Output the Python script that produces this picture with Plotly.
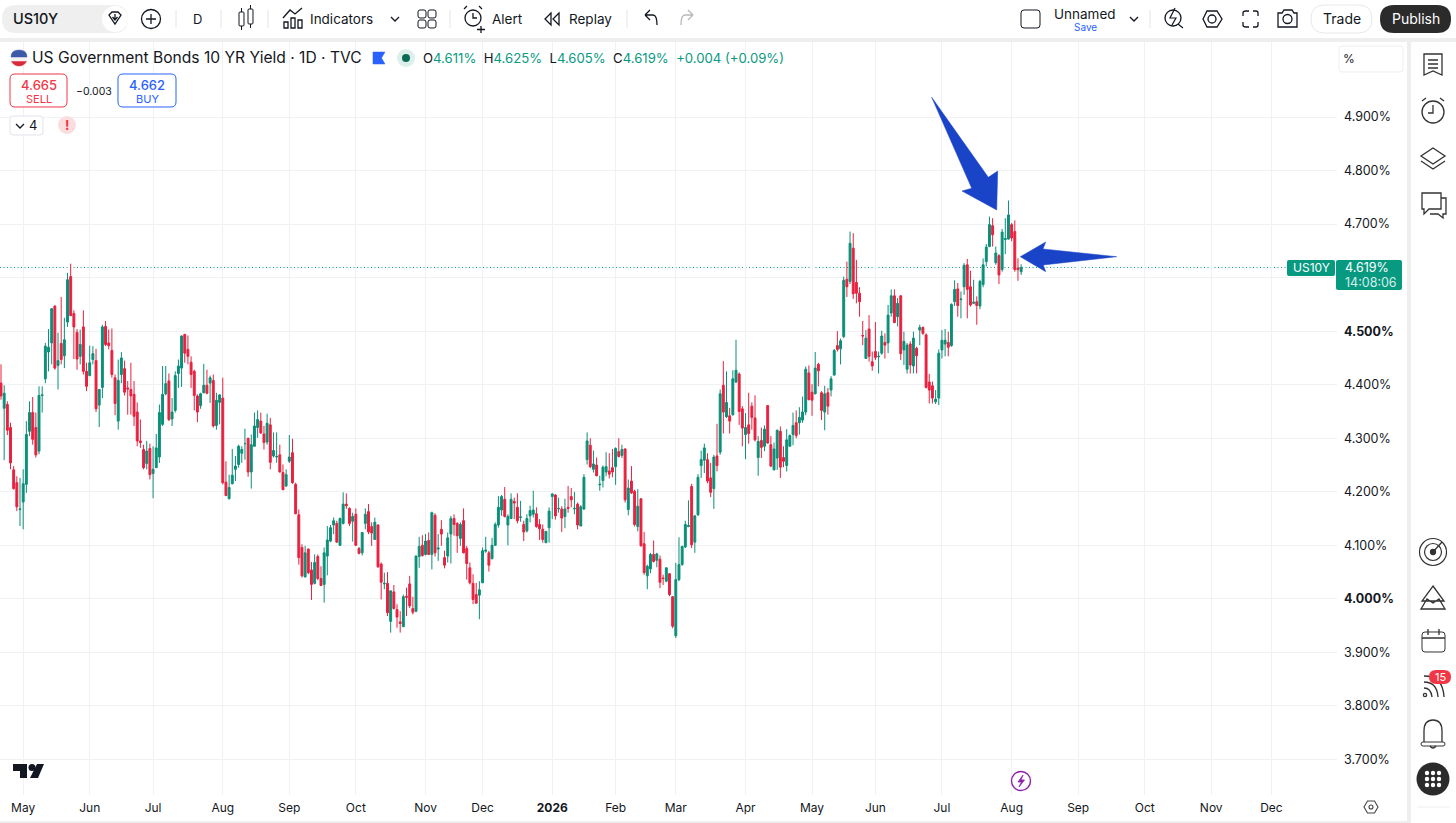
import re

import plotly.graph_objects as go

opens = [
    4.403, 4.356, 4.363, 4.320, 4.241, 4.217, 4.167, 4.181, 4.214, 4.313,
    4.348, 4.320, 4.276, 4.380, 4.411, 4.461, 4.478, 4.547, 4.436, 4.477,
    4.454, 4.517, 4.602, 4.533, 4.498, 4.453, 4.508, 4.425, 4.417, 4.447,
    4.445, 4.362, 4.395, 4.509, 4.478, 4.464, 4.413, 4.332, 4.419, 4.430,
    4.394, 4.391, 4.382, 4.349, 4.295, 4.279, 4.253, 4.281, 4.234, 4.245,
    4.265, 4.326, 4.383, 4.407, 4.336, 4.352, 4.421, 4.431, 4.494, 4.466,
    4.442, 4.425, 4.379, 4.361, 4.385, 4.399, 4.403, 4.408, 4.324, 4.367,
    4.375, 4.218, 4.187, 4.215, 4.242, 4.251, 4.272, 4.290, 4.300, 4.237,
    4.285, 4.320, 4.332, 4.308, 4.293, 4.325, 4.267, 4.265, 4.269, 4.236,
    4.211, 4.257, 4.273, 4.214, 4.157, 4.096, 4.041, 4.093, 4.054, 4.029,
    4.079, 4.038, 4.027, 4.080, 4.108, 4.138, 4.141, 4.100, 4.141, 4.177,
    4.169, 4.145, 4.158, 4.094, 4.086, 4.141, 4.163, 4.135, 4.111, 4.138,
    4.065, 4.028, 4.029, 3.958, 4.013, 3.980, 3.957, 3.948, 4.005, 4.028,
    3.982, 3.977, 4.079, 4.100, 4.083, 4.109, 4.083, 4.156, 4.093, 4.130,
    4.077, 4.080, 4.121, 4.150, 4.141, 4.113, 4.146, 4.094, 4.058, 4.029,
    4.008, 4.007, 4.030, 4.089, 4.086, 4.075, 4.100, 4.138, 4.166, 4.186,
    4.138, 4.150, 4.182, 4.171, 4.152, 4.139, 4.127, 4.155, 4.158, 4.159,
    4.139, 4.130, 4.105, 4.133, 4.191, 4.194, 4.168, 4.168, 4.154, 4.171,
    4.191, 4.168, 4.177, 4.136, 4.168, 4.260, 4.287, 4.242, 4.250, 4.213,
    4.221, 4.237, 4.239, 4.245, 4.247, 4.275, 4.268, 4.280, 4.167, 4.220,
    4.201, 4.135, 4.187, 4.103, 4.043, 4.056, 4.083, 4.072, 4.074, 4.039,
    4.033, 4.047, 4.004, 3.931, 4.036, 4.064, 4.097, 4.135, 4.210, 4.106,
    4.157, 4.249, 4.259, 4.260, 4.226, 4.206, 4.267, 4.274, 4.399, 4.340,
    4.342, 4.344, 4.405, 4.420, 4.355, 4.307, 4.325, 4.360, 4.338, 4.264,
    4.296, 4.285, 4.361, 4.288, 4.241, 4.263, 4.313, 4.264, 4.249, 4.285,
    4.307, 4.329, 4.329, 4.334, 4.349, 4.422, 4.386, 4.383, 4.438, 4.385,
    4.349, 4.385, 4.390, 4.418, 4.473, 4.467, 4.490, 4.597, 4.593, 4.655,
    4.591, 4.571, 4.492, 4.449, 4.504, 4.443, 4.462, 4.452, 4.459, 4.479,
    4.478, 4.534, 4.566, 4.527, 4.566, 4.465, 4.429, 4.476, 4.435, 4.468,
    4.502, 4.507, 4.493, 4.405, 4.398, 4.368, 4.375, 4.465, 4.476, 4.479,
    4.473, 4.555, 4.579, 4.559, 4.583, 4.624, 4.583, 4.552, 4.555, 4.547,
    4.587, 4.630, 4.658, 4.697, 4.628, 4.641, 4.615, 4.671, 4.672, 4.699,
    4.686, 4.618, 4.611,
]
highs = [
    4.438, 4.399, 4.369, 4.329, 4.248, 4.229, 4.226, 4.242, 4.332, 4.369,
    4.377, 4.348, 4.397, 4.397, 4.478, 4.504, 4.543, 4.548, 4.497, 4.564,
    4.525, 4.609, 4.626, 4.539, 4.504, 4.503, 4.539, 4.441, 4.473, 4.472,
    4.467, 4.391, 4.512, 4.519, 4.503, 4.505, 4.419, 4.447, 4.461, 4.445,
    4.407, 4.441, 4.407, 4.367, 4.335, 4.288, 4.295, 4.290, 4.285, 4.308,
    4.363, 4.435, 4.435, 4.421, 4.375, 4.425, 4.447, 4.492, 4.495, 4.492,
    4.453, 4.428, 4.382, 4.385, 4.439, 4.428, 4.417, 4.419, 4.385, 4.382,
    4.413, 4.257, 4.232, 4.280, 4.267, 4.288, 4.285, 4.318, 4.301, 4.307,
    4.348, 4.352, 4.348, 4.323, 4.346, 4.338, 4.311, 4.311, 4.288, 4.251,
    4.242, 4.306, 4.299, 4.217, 4.167, 4.102, 4.099, 4.094, 4.069, 4.083,
    4.083, 4.061, 4.096, 4.136, 4.138, 4.152, 4.146, 4.152, 4.199, 4.197,
    4.171, 4.161, 4.169, 4.097, 4.125, 4.169, 4.177, 4.143, 4.152, 4.139,
    4.068, 4.049, 4.050, 4.015, 4.026, 3.990, 3.977, 4.008, 4.021, 4.043,
    4.004, 4.081, 4.116, 4.119, 4.121, 4.124, 4.163, 4.160, 4.121, 4.147,
    4.090, 4.124, 4.155, 4.158, 4.143, 4.143, 4.169, 4.099, 4.068, 4.046,
    4.030, 4.033, 4.096, 4.116, 4.090, 4.114, 4.143, 4.192, 4.194, 4.209,
    4.158, 4.197, 4.189, 4.197, 4.183, 4.146, 4.158, 4.174, 4.202, 4.171,
    4.149, 4.139, 4.127, 4.171, 4.197, 4.196, 4.189, 4.173, 4.187, 4.211,
    4.207, 4.200, 4.180, 4.175, 4.233, 4.311, 4.300, 4.277, 4.264, 4.230,
    4.249, 4.274, 4.272, 4.280, 4.283, 4.300, 4.288, 4.281, 4.223, 4.248,
    4.204, 4.205, 4.188, 4.125, 4.064, 4.086, 4.109, 4.086, 4.081, 4.045,
    4.059, 4.048, 4.005, 4.067, 4.115, 4.099, 4.146, 4.184, 4.215, 4.157,
    4.233, 4.277, 4.290, 4.272, 4.254, 4.269, 4.327, 4.391, 4.444, 4.425,
    4.357, 4.427, 4.484, 4.423, 4.360, 4.347, 4.385, 4.367, 4.380, 4.304,
    4.320, 4.324, 4.362, 4.304, 4.292, 4.316, 4.322, 4.285, 4.317, 4.307,
    4.348, 4.352, 4.358, 4.378, 4.434, 4.436, 4.401, 4.461, 4.441, 4.388,
    4.398, 4.394, 4.416, 4.467, 4.500, 4.486, 4.602, 4.630, 4.686, 4.683,
    4.633, 4.582, 4.519, 4.502, 4.530, 4.462, 4.517, 4.462, 4.501, 4.496,
    4.549, 4.578, 4.578, 4.562, 4.567, 4.499, 4.478, 4.481, 4.499, 4.471,
    4.512, 4.509, 4.496, 4.420, 4.406, 4.390, 4.466, 4.502, 4.504, 4.499,
    4.552, 4.595, 4.590, 4.574, 4.627, 4.635, 4.613, 4.596, 4.565, 4.596,
    4.636, 4.663, 4.714, 4.711, 4.658, 4.644, 4.691, 4.711, 4.744, 4.702,
    4.707, 4.636, 4.625,
]
lows = [
    4.372, 4.259, 4.306, 4.242, 4.204, 4.164, 4.136, 4.130, 4.198, 4.304,
    4.288, 4.264, 4.270, 4.348, 4.403, 4.425, 4.438, 4.428, 4.391, 4.438,
    4.431, 4.508, 4.528, 4.448, 4.428, 4.438, 4.419, 4.388, 4.416, 4.438,
    4.349, 4.321, 4.375, 4.472, 4.466, 4.413, 4.343, 4.316, 4.403, 4.380,
    4.344, 4.344, 4.323, 4.285, 4.282, 4.242, 4.242, 4.223, 4.188, 4.245,
    4.254, 4.323, 4.380, 4.332, 4.323, 4.348, 4.394, 4.396, 4.441, 4.438,
    4.394, 4.352, 4.330, 4.355, 4.384, 4.382, 4.366, 4.320, 4.316, 4.326,
    4.214, 4.192, 4.186, 4.214, 4.220, 4.245, 4.254, 4.260, 4.228, 4.206,
    4.285, 4.301, 4.308, 4.279, 4.288, 4.242, 4.264, 4.254, 4.236, 4.203,
    4.209, 4.254, 4.215, 4.158, 4.064, 4.040, 4.040, 4.046, 3.998, 4.027,
    4.035, 4.024, 3.993, 4.044, 4.106, 4.121, 4.105, 4.099, 4.139, 4.168,
    4.136, 4.107, 4.099, 4.083, 4.081, 4.130, 4.121, 4.099, 4.110, 4.058,
    3.999, 4.018, 3.968, 3.937, 3.980, 3.946, 3.937, 3.948, 3.968, 3.983,
    3.971, 3.975, 4.058, 4.079, 4.081, 4.082, 4.055, 4.079, 4.071, 4.099,
    4.057, 4.068, 4.066, 4.118, 4.086, 4.099, 4.085, 4.036, 4.027, 3.990,
    3.991, 3.962, 4.030, 4.086, 4.051, 4.074, 4.099, 4.133, 4.155, 4.152,
    4.100, 4.149, 4.149, 4.141, 4.144, 4.108, 4.124, 4.143, 4.152, 4.133,
    4.110, 4.105, 4.104, 4.105, 4.149, 4.148, 4.161, 4.125, 4.132, 4.161,
    4.171, 4.158, 4.130, 4.136, 4.166, 4.251, 4.244, 4.236, 4.229, 4.202,
    4.208, 4.229, 4.225, 4.227, 4.213, 4.264, 4.263, 4.180, 4.156, 4.196,
    4.135, 4.126, 4.098, 4.045, 4.018, 4.048, 4.068, 4.059, 4.020, 4.026,
    4.031, 4.005, 3.945, 3.927, 4.033, 4.062, 4.095, 4.134, 4.095, 4.086,
    4.155, 4.226, 4.235, 4.216, 4.190, 4.168, 4.238, 4.269, 4.309, 4.338,
    4.309, 4.342, 4.403, 4.325, 4.285, 4.261, 4.290, 4.316, 4.294, 4.230,
    4.263, 4.276, 4.290, 4.246, 4.240, 4.241, 4.226, 4.246, 4.238, 4.285,
    4.287, 4.300, 4.307, 4.329, 4.343, 4.371, 4.342, 4.382, 4.397, 4.334,
    4.315, 4.344, 4.378, 4.417, 4.462, 4.438, 4.487, 4.564, 4.588, 4.560,
    4.552, 4.527, 4.474, 4.448, 4.443, 4.426, 4.446, 4.421, 4.456, 4.449,
    4.459, 4.527, 4.515, 4.509, 4.446, 4.437, 4.421, 4.421, 4.421, 4.421,
    4.474, 4.493, 4.393, 4.365, 4.365, 4.364, 4.362, 4.449, 4.453, 4.453,
    4.471, 4.547, 4.527, 4.524, 4.568, 4.524, 4.546, 4.551, 4.512, 4.541,
    4.582, 4.621, 4.657, 4.658, 4.624, 4.588, 4.611, 4.644, 4.671, 4.668,
    4.611, 4.594, 4.605,
]
closes = [
    4.379, 4.384, 4.315, 4.254, 4.206, 4.172, 4.168, 4.215, 4.307, 4.348,
    4.298, 4.269, 4.380, 4.381, 4.472, 4.470, 4.542, 4.431, 4.445, 4.447,
    4.484, 4.596, 4.529, 4.508, 4.448, 4.475, 4.425, 4.397, 4.441, 4.458,
    4.355, 4.391, 4.508, 4.475, 4.473, 4.419, 4.365, 4.408, 4.450, 4.386,
    4.392, 4.379, 4.341, 4.295, 4.292, 4.245, 4.276, 4.232, 4.242, 4.282,
    4.348, 4.382, 4.402, 4.335, 4.349, 4.417, 4.435, 4.491, 4.459, 4.453,
    4.419, 4.380, 4.349, 4.383, 4.399, 4.384, 4.413, 4.323, 4.371, 4.381,
    4.217, 4.193, 4.208, 4.231, 4.248, 4.285, 4.279, 4.290, 4.237, 4.288,
    4.323, 4.335, 4.310, 4.292, 4.328, 4.255, 4.277, 4.266, 4.237, 4.204,
    4.232, 4.265, 4.217, 4.159, 4.077, 4.043, 4.086, 4.049, 4.027, 4.068,
    4.038, 4.025, 4.086, 4.110, 4.133, 4.146, 4.106, 4.150, 4.177, 4.174,
    4.141, 4.154, 4.100, 4.085, 4.124, 4.158, 4.125, 4.123, 4.143, 4.060,
    4.031, 4.029, 3.974, 4.015, 3.982, 3.966, 3.954, 4.004, 4.003, 3.987,
    3.975, 4.080, 4.098, 4.081, 4.108, 4.083, 4.161, 4.086, 4.095, 4.121,
    4.063, 4.114, 4.150, 4.139, 4.118, 4.139, 4.086, 4.066, 4.030, 3.999,
    3.992, 4.017, 4.090, 4.091, 4.063, 4.100, 4.139, 4.171, 4.191, 4.154,
    4.154, 4.186, 4.179, 4.146, 4.153, 4.125, 4.150, 4.165, 4.166, 4.135,
    4.131, 4.111, 4.126, 4.164, 4.196, 4.155, 4.169, 4.151, 4.168, 4.169,
    4.185, 4.169, 4.138, 4.172, 4.227, 4.295, 4.247, 4.252, 4.230, 4.214,
    4.246, 4.247, 4.233, 4.237, 4.281, 4.266, 4.279, 4.185, 4.207, 4.198,
    4.139, 4.173, 4.099, 4.049, 4.061, 4.083, 4.070, 4.084, 4.031, 4.038,
    4.058, 4.008, 3.949, 4.036, 4.064, 4.098, 4.139, 4.137, 4.101, 4.155,
    4.227, 4.260, 4.282, 4.220, 4.199, 4.265, 4.249, 4.383, 4.349, 4.367,
    4.332, 4.411, 4.427, 4.350, 4.319, 4.320, 4.309, 4.339, 4.297, 4.294,
    4.283, 4.317, 4.291, 4.248, 4.280, 4.315, 4.246, 4.257, 4.297, 4.305,
    4.324, 4.305, 4.339, 4.349, 4.429, 4.372, 4.371, 4.431, 4.426, 4.352,
    4.383, 4.360, 4.411, 4.464, 4.466, 4.482, 4.595, 4.583, 4.664, 4.570,
    4.571, 4.555, 4.491, 4.487, 4.453, 4.435, 4.451, 4.453, 4.491, 4.474,
    4.530, 4.566, 4.516, 4.552, 4.458, 4.481, 4.474, 4.437, 4.487, 4.454,
    4.507, 4.496, 4.395, 4.390, 4.375, 4.373, 4.459, 4.483, 4.483, 4.470,
    4.550, 4.578, 4.548, 4.560, 4.623, 4.578, 4.549, 4.554, 4.548, 4.593,
    4.624, 4.657, 4.699, 4.680, 4.646, 4.605, 4.685, 4.673, 4.717, 4.674,
    4.615, 4.615, 4.619,
]

# bar number where each month starts
month_bars = [7, 28, 48, 70, 91, 112, 134, 152, 174, 194, 213, 235, 256, 276, 297, 319, 340, 361, 382, 401]
month_labels = ["May", "Jun", "Jul", "Aug", "Sep", "Oct", "Nov", "Dec", "<b>2026</b>", "Feb", "Mar", "Apr",
                "May", "Jun", "Jul", "Aug", "Sep", "Oct", "Nov", "Dec"]
price_ticks = [3.7, 3.8, 3.9, 4.0, 4.1, 4.2, 4.3, 4.4, 4.5, 4.6, 4.7, 4.8, 4.9]
price_labels = ["3.700%", "3.800%", "3.900%", "<b>4.000%</b>", "4.100%", "4.200%", "4.300%", "4.400%",
                "<b>4.500%</b>", "", "4.700%", "4.800%", "4.900%"]

ANCHO = 1456
ALTO = 823
VERDE = "#089981"
ROJO = "#F23645"
VELA_VERDE = "#0A8F78"
VELA_ROJA = "#E8203F"
AZUL = "#2962FF"
NEGRO = "#131722"
GRIS = "#EEEEEE"
FUENTE = "Inter"

formas = []
textos = []


def svg(d):
    # d esta en pixeles de la pagina, se pasa a coordenadas paper
    salida = []
    es_x = True
    for token in re.findall(r"[MLQCZ]|-?[\d.]+", d):
        if token in "MLQCZ":
            salida.append(token)
            es_x = True
        elif es_x:
            salida.append(str(round(float(token) / ANCHO, 5)))
            es_x = False
        else:
            salida.append(str(round(1 - float(token) / ALTO, 5)))
            es_x = True
    return " ".join(salida)


def trazo(d, color=NEGRO, ancho=1.3, relleno=None):
    formas.append(dict(
        type="path", xref="paper", yref="paper", path=svg(d),
        line=dict(color=color, width=ancho), fillcolor=relleno
    ))


def caja(x0, y0, x1, y1, r=0, color=None, relleno=None, ancho=1):
    d = (
        f"M{x0 + r} {y0} L{x1 - r} {y0} Q{x1} {y0} {x1} {y0 + r} L{x1} {y1 - r} Q{x1} {y1} {x1 - r} {y1} "
        f"L{x0 + r} {y1} Q{x0} {y1} {x0} {y1 - r} L{x0} {y0 + r} Q{x0} {y0} {x0 + r} {y0} Z"
    )
    trazo(d, color or "rgba(0,0,0,0)", ancho if color else 0, relleno)


def circulo(cx, cy, r, color=None, relleno=None, ancho=1.3):
    formas.append(dict(
        type="circle", xref="paper", yref="paper",
        x0=(cx - r) / ANCHO, x1=(cx + r) / ANCHO, y0=1 - (cy - r) / ALTO, y1=1 - (cy + r) / ALTO,
        line=dict(color=color or "rgba(0,0,0,0)", width=ancho if color else 0), fillcolor=relleno
    ))


def texto(x, y, t, size=14, color=NEGRO, lado="left", peso=400):
    if lado == "left":
        x = x - 1
    textos.append(dict(
        x=x / ANCHO, y=1 - y / ALTO, xref="paper", yref="paper", text=t, showarrow=False,
        xanchor=lado, yanchor="middle", borderpad=0,
        font=dict(family=FUENTE, size=size, color=color, weight=peso)
    ))


# bandas grises y barra superior
caja(0, 38, ANCHO, 42, relleno=GRIS)
caja(1407, 42, 1411, 823, relleno=GRIS)
caja(0, 821, 1407, 823, relleno=GRIS)

caja(2, 5, 128, 33, 14, relleno="#EFEFEF")
circulo(115, 19, 13, relleno="#FFFFFF")
trazo("M109 15 L112 12 L118 12 L121 15 L115 24 Z M115 14 L115 19 M112.5 17 L115 20 L117.5 17")
texto(13, 19, "US10Y", 14.5, NEGRO, peso=500)
circulo(151, 19, 9.5, NEGRO)
trazo("M146 19 L156 19 M151 14 L151 24")
for x in [176, 221, 268, 450, 627, 1150]:
    trazo(f"M{x} 10 L{x} 28", "#E4E4E4", 1)
texto(198, 19, "D", 13, NEGRO, "center")
caja(239, 12, 244, 26, 1, NEGRO)
caja(248, 9, 253, 24, 1, NEGRO)
trazo("M241.5 8 L241.5 12 M241.5 26 L241.5 30 M250.5 5 L250.5 9 M250.5 24 L250.5 28", ancho=1)
trazo("M284 28 L284 22 L288 22 L288 28 Z M291 28 L291 18 L295 18 L295 28 Z M298 28 L298 20 L302 20 L302 28 Z")
trazo("M283 18 L290 10 L295 14 L302 8")
texto(310, 19, "Indicators", 13.5)
trazo("M391 17 L395 21 L399 17")
for cx, cy in [(422, 14), (432, 14), (422, 24), (432, 24)]:
    caja(cx - 4, cy - 4, cx + 4, cy + 4, 2, NEGRO)
circulo(473, 18, 8, NEGRO)
trazo("M473 13 L473 18 L477 18 M464 9 L467 6 M482 9 L479 6 M481 26 L481 33 M477 29.5 L485 29.5")
texto(492, 19, "Alert", 13.5)
trazo("M551 13 L545 19 L551 25 Z M559 13 L553 19 L559 25 Z")
texto(569, 19, "Replay", 13.5)
trazo("M645 15 L650 10 M645 15 L650 20 M645 15 L653 15 Q657 15 657 25")
trazo("M693 15 L688 10 M693 15 L688 20 M693 15 L685 15 Q681 15 681 25", "#B8B8B8")

caja(1021, 10, 1040, 28, 3, NEGRO)
texto(1085, 14, "Unnamed", 13.5, NEGRO, "center")
texto(1085, 27, "Save", 10, AZUL, "center")
trazo("M1130 17 L1134 21 L1138 17")
circulo(1173, 18, 8, NEGRO)
trazo("M1178 24 L1183 28 M1175 8 L1170 18 L1176 18 L1172 25", ancho=1.2)
trazo("M1203 19 L1207 11 L1217 11 L1222 19 L1217 27 L1207 27 Z")
circulo(1212, 19, 4, NEGRO)
trazo("M1243 16 L1243 13 Q1243 11 1246 11 L1249 11 M1253 11 L1256 11 Q1258 11 1258 13 L1258 16 "
      "M1258 22 L1258 25 Q1258 27 1256 27 L1253 27 M1249 27 L1246 27 Q1243 27 1243 25 L1243 22")
trazo("M1278 13 L1282 13 L1284 10 L1292 10 L1294 13 L1297 13 L1297 27 L1278 27 Z")
circulo(1287.5, 19, 4.5, NEGRO)
caja(1311, 5, 1372, 33, 14, "#E8E8E8", "#FFFFFF")
texto(1341.5, 19, "Trade", 14, NEGRO, "center")
caja(1380, 5, 1451, 33, 14, relleno="#2B2B2B")
texto(1415.5, 19, "Publish", 14, "#FFFFFF", "center")

# cabecera del grafico
circulo(19, 58, 8, relleno="#F2F2F2")
trazo("M11 57 Q11 50 19 50 Q27 50 27 57 Z", "#3C5AA8", 0.5, "#3C5AA8")
trazo("M11.5 61.5 L26.5 61.5 Q24 66 19 66 Q14 66 11.5 61.5 Z", "#D9283A", 0.5, "#D9283A")
texto(32, 58, "US Government Bonds 10 YR Yield · 1D · TVC", 15.6, NEGRO)
trazo("M373 52 L385 52 L381.5 58 L385 64 L373 64 Z", AZUL, 0.5, AZUL)
circulo(406, 58, 9, relleno="#DDEFEA")
circulo(406, 58, 4, relleno="#0B6B58")


def ohlc(letra, valor):
    return f"{letra}<span style='color:{VERDE}'>{valor}</span>"


texto(423, 58, "  ".join([
    ohlc("O", f"{opens[-1]:.3f}%"), ohlc("H", f"{highs[-1]:.3f}%"),
    ohlc("L", f"{lows[-1]:.3f}%"), ohlc("C", f"{closes[-1]:.3f}%"),
]) + f"  <span style='color:{VERDE}'>+0.004 (+0.09%)</span>", 13.15)

caja(10, 74, 67, 107, 5, ROJO, "#FFFFFF")
texto(38.5, 85, "4.665", 13, ROJO, "center", 500)
texto(38.5, 99, "SELL", 11, ROJO, "center")
texto(94, 91, "−0.003", 10.5, NEGRO, "center")
caja(118, 74, 176, 107, 5, AZUL, "#FFFFFF")
texto(147, 85, "4.662", 13, AZUL, "center", 500)
texto(147, 99, "BUY", 11, AZUL, "center")

caja(10, 116, 43, 135, 3, "#E0E3EB", "#FFFFFF")
trazo("M16 124 L20 128 L24 124")
texto(29, 125.5, "4", 13)
circulo(67, 125, 9, relleno="#FBDDE0")
texto(67, 125, "!", 13, ROJO, "center", 700)

caja(1339, 46, 1403, 72, 3, "#EEEEEE", "#FFFFFF")
texto(1343, 59, "%", 12)

# etiquetas del ultimo precio
caja(1287, 260, 1335, 276, 2, relleno=VERDE)
texto(1311, 268, "US10Y", 12, "#FFFFFF", "center")
caja(1336, 260, 1402, 290, 2, relleno=VERDE)
texto(1345, 268, f"{closes[-1]:.3f}%", 12.5, "#FFFFFF")
texto(1345, 282, "14:08:06", 12.5, "#D5EFEA")

# logo y botones de abajo
trazo("M13 764 L27 764 L27 778 L20 778 L20 771 L13 771 Z", NEGRO, 0, NEGRO)
circulo(32, 767.5, 3.5, relleno=NEGRO)
trazo("M37 764 L44 764 L38 778 L30 778 Z", NEGRO, 0, NEGRO)
circulo(1021, 781, 9.5, "#8E24AA", "#FFFFFF", 1.4)
trazo("M1023 775 L1018 782 L1021.5 782 L1019 787 L1024.5 780 L1021 780 Z", "#8E24AA", 0.8, "#8E24AA")
trazo("M1364 807 L1367.5 801 L1374.5 801 L1378 807 L1374.5 813 L1367.5 813 Z", "#444444", 1.1)
circulo(1371, 807, 2, "#444444", None, 1.1)

# barra lateral
trazo("M1424 54 L1442 54 L1442 75 L1433 71 L1424 75 Z M1428 60 L1438 60 M1428 64 L1438 64 M1428 68 L1438 68", "#333333")
circulo(1433, 112, 11, "#333333")
trazo("M1433 105 L1433 113 L1428 113 M1422 101 L1426 98 M1444 101 L1440 98", "#333333")
trazo("M1433 148 L1445 156 L1433 164 L1421 156 Z M1421 161 L1433 169 L1445 161", "#333333")
trazo("M1422 193 L1441 193 L1441 209 L1429 209 L1424 214 L1424 209 L1422 209 Z", "#333333")
trazo("M1441 198 L1446 198 L1446 214 L1443 214 L1443 218 L1438 214 L1430 214", "#333333")
circulo(1433, 552, 13.5, "#333333", None, 1.2)
circulo(1433, 552, 8.5, "#333333", None, 1.2)
circulo(1433, 552, 2.5, "#333333", "#333333")
trazo("M1433 552 L1442 542", "#333333")
trazo("M1433 586 L1444 601 L1422 601 Z M1421 609 L1445 609 L1439 599 L1433 603 L1427 599 Z", "#333333")
caja(1422, 632, 1445, 652, 3, "#333333")
trazo("M1422 638 L1445 638 M1428 629 L1428 635 M1439 629 L1439 635", "#333333")
circulo(1425, 695, 1.6, "#333333")
trazo("M1424 688 Q1431 688 1432 697 M1424 682 Q1437 682 1438 697 M1424 676 Q1443 676 1444 697", "#333333")
caja(1429, 670, 1451, 684, 7, relleno="#F23645")
texto(1440, 677, "15", 11, "#FFFFFF", "center")
trazo("M1424 742 L1424 731 Q1424 720 1433 720 Q1442 720 1442 731 L1442 742", "#333333")
caja(1421, 742, 1445, 746, 2, "#333333")
trazo("M1430 746 Q1433 750 1436 746", "#333333")
circulo(1433, 779, 16.5, relleno="#2B2B2B")
for dy in [-6, 0, 6]:
    for dx in [-6, 0, 6]:
        circulo(1433 + dx, 779 + dy, 2.2, relleno="#FFFFFF")
trazo("M1417 807 L1450 807", GRIS, 1)

# flechas azules
trazo("M931.7 97.3 L988.3 177.3 L997.7 171 L996.7 210 L962 191 L971.7 188.3 Z", "#1A44C8", 0.5, "#1A44C8")
trazo("M1020.3 256.7 L1045.7 242 L1043 249 L1116.7 256.7 L1043.3 265 L1045.7 271.7 Z", "#1A44C8", 0.5, "#1A44C8")

# linea punteada del ultimo precio
formas.insert(0, dict(
    type="line", xref="paper", yref="y", x0=0, x1=1287 / ANCHO, y0=closes[-1], y1=closes[-1],
    line=dict(color=VERDE, width=1, dash="1px,2.5px"), layer="below"
))

figura = go.Figure()

figura.add_trace(
    go.Candlestick(
        x=list(range(len(closes))),
        open=opens,
        high=highs,
        low=lows,
        close=closes,
        whiskerwidth=0,
        increasing=dict(line=dict(color=VELA_VERDE, width=1), fillcolor=VELA_VERDE),
        decreasing=dict(line=dict(color=VELA_ROJA, width=1), fillcolor=VELA_ROJA),
        showlegend=False,
    )
)

figura.update_layout(
    width=ANCHO,
    height=ALTO,
    margin=dict(l=0, r=0, t=0, b=0),
    paper_bgcolor="#FFFFFF",
    plot_bgcolor="#FFFFFF",
    font=dict(family=FUENTE, size=12.5, color=NEGRO),
    hovermode="closest",
    boxgap=0.2,
    boxgroupgap=0.25,
    shapes=formas,
    annotations=textos,
    xaxis=dict(
        domain=[0, 1337 / ANCHO],
        range=[-0.316, 421.7],
        tickmode="array",
        tickvals=month_bars,
        ticktext=month_labels,
        ticks="",
        gridcolor="#F0F1F4",
        gridwidth=1,
        zeroline=False,
        showline=False,
        ticklabelstandoff=4,
        tickfont=dict(size=12),
        rangeslider=dict(visible=False),
    ),
    yaxis=dict(
        domain=[1 - 795 / ALTO, 1 - 42 / ALTO],
        range=[3.6337, 5.0401],
        side="right",
        tickmode="array",
        tickvals=price_ticks,
        ticktext=price_labels,
        ticks="",
        gridcolor="#F0F1F4",
        gridwidth=1,
        zeroline=False,
        showline=False,
        ticklabelstandoff=6,
        tickfont=dict(size=12.5),
    ),
)

figura.write_html(
    "out.html",
    config=dict(displayModeBar=False),
    post_script="document.body.style.margin='0';document.body.style.overflow='hidden';"
)
